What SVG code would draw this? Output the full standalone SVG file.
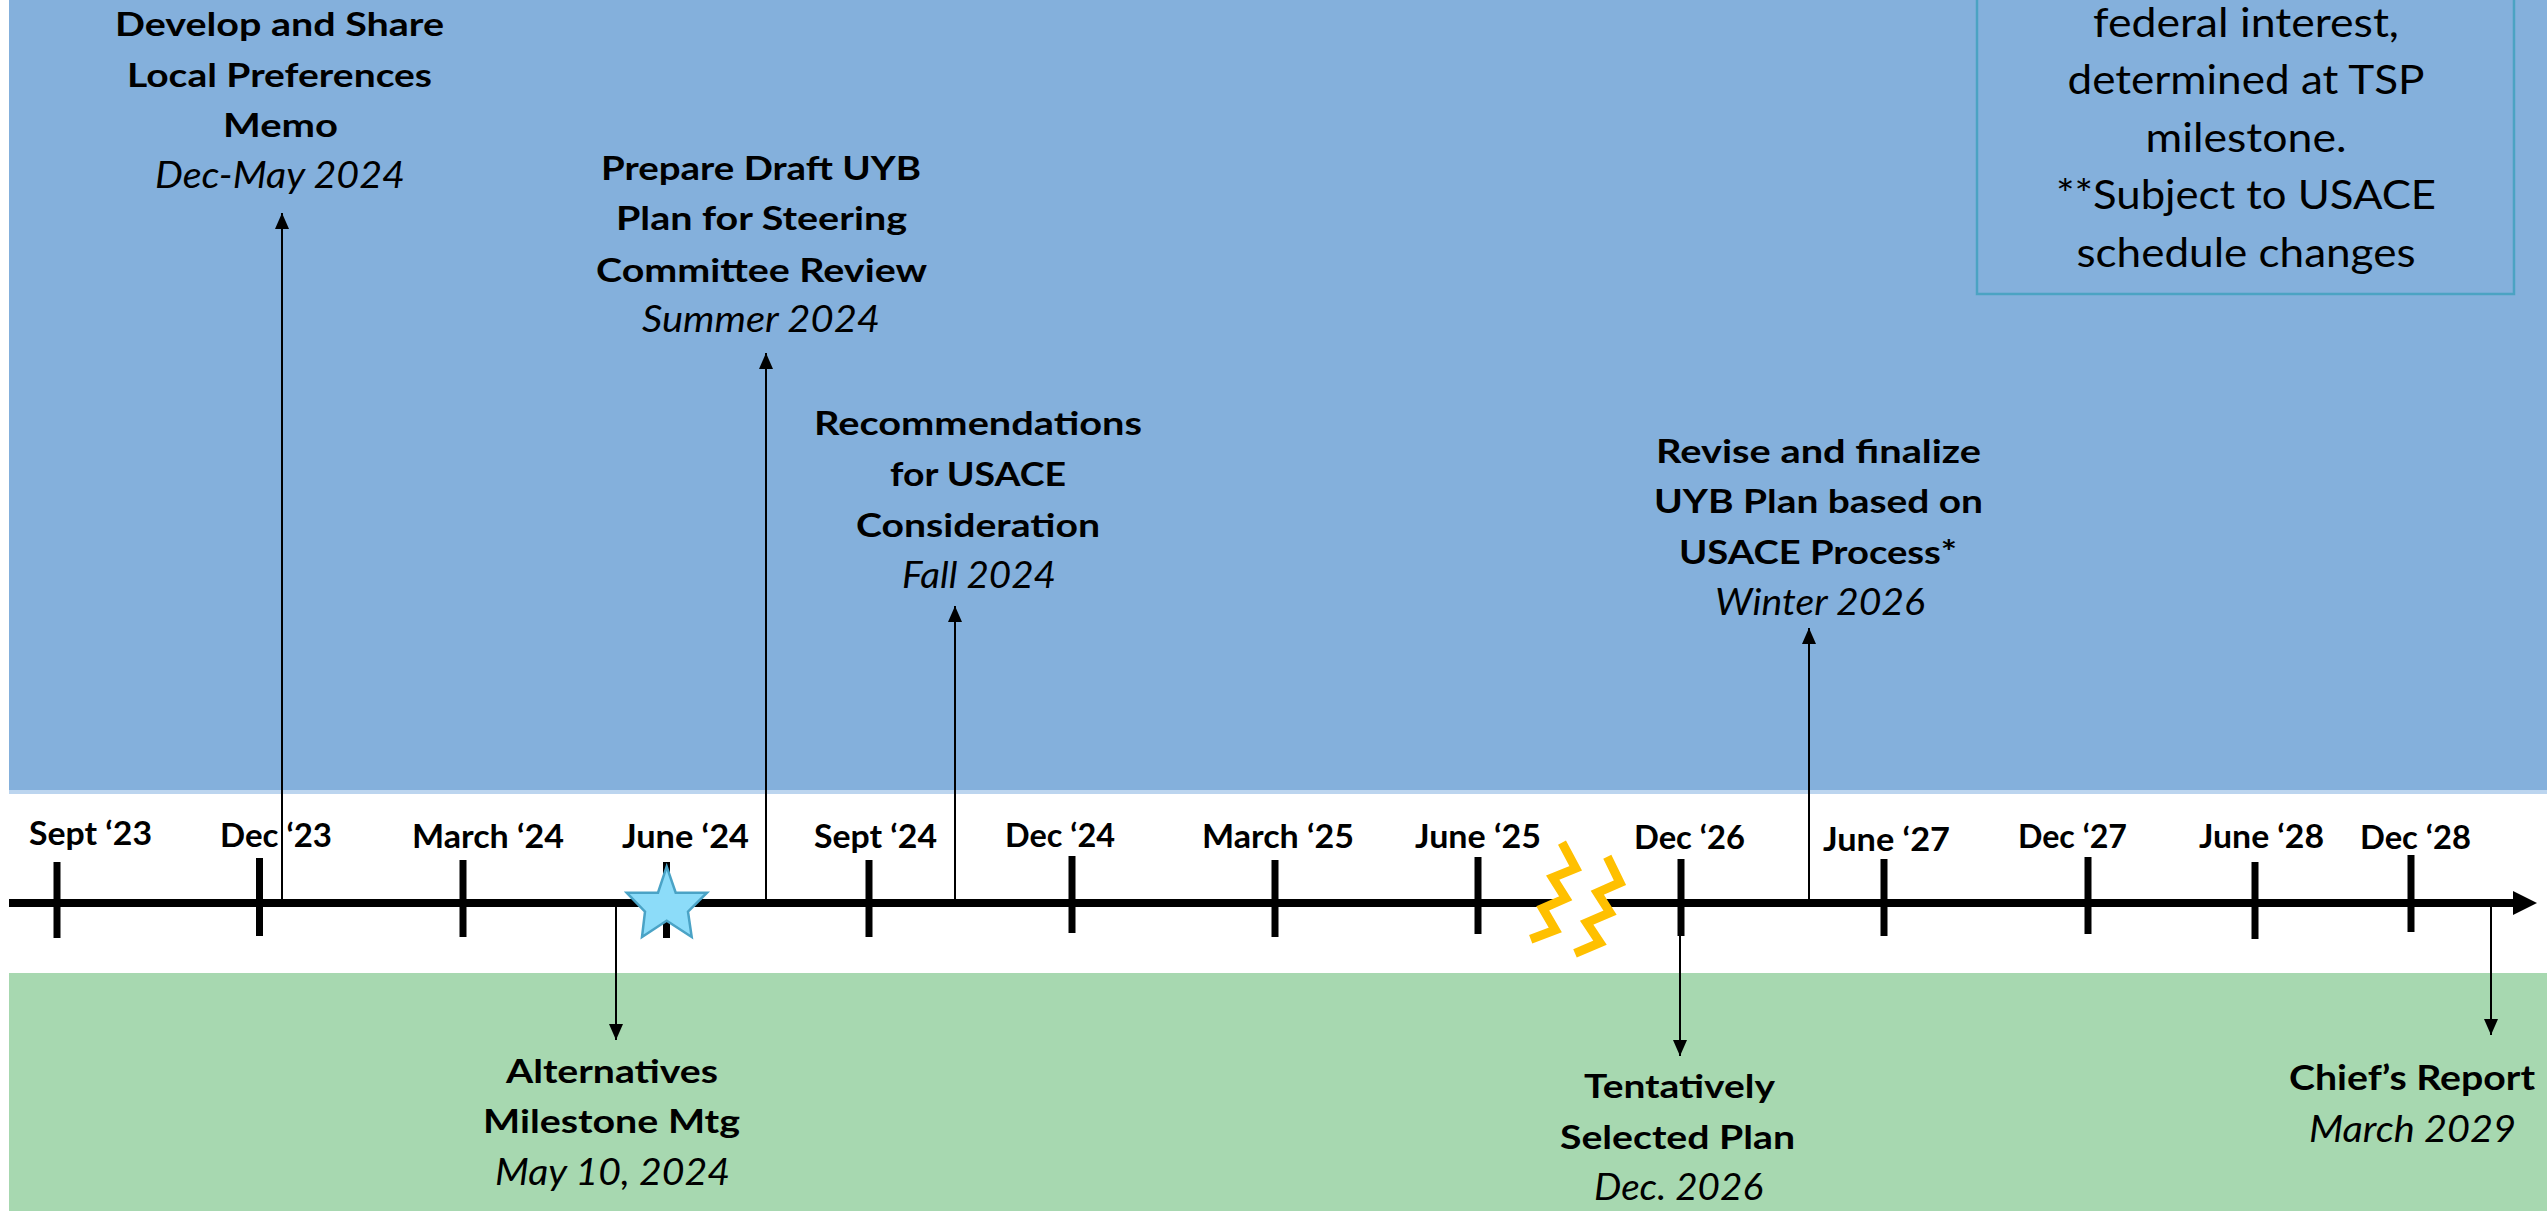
<svg xmlns="http://www.w3.org/2000/svg" width="2547" height="1211" viewBox="0 0 2547 1211">
<style>
text{font-family:"Lato","Carlito","Liberation Sans",sans-serif;fill:#000;text-anchor:middle}
.b{font-weight:700;font-size:33px}
.i{font-style:italic;font-weight:400;font-size:37px}
.t{font-weight:700;font-size:33px}
.n{font-weight:400;font-size:41px}
.tick{stroke:#000;stroke-width:7}
.con{stroke:#000;stroke-width:2;fill:none}
.bolt{fill:none;stroke:#FFC000;stroke-width:9;stroke-linejoin:miter;stroke-miterlimit:10}
</style>
<defs>
<marker id="ah" viewBox="0 0 16 14" refX="16" refY="7" markerWidth="16" markerHeight="14" markerUnits="userSpaceOnUse" orient="auto">
<path d="M0,0 L16,7 L0,14 Z" fill="#000"/>
</marker>
</defs>
<rect x="0" y="0" width="2547" height="1211" fill="#fff"/>
<g id="bands">
<rect x="9" y="0" width="2538" height="791" fill="#84B0DC"/>
<rect x="9" y="790" width="2538" height="4" fill="#BCD5EF"/>
<rect x="9" y="973" width="2538" height="238" fill="#A7D8B0"/>
</g>
<g id="note-box">
<rect x="1977" y="-20" width="537" height="314" fill="none" stroke="#4BA3C3" stroke-width="2.5"/>
<text class="n" x="2246" y="37" textLength="306" lengthAdjust="spacingAndGlyphs">federal interest,</text>
<text class="n" x="2246" y="94" textLength="357" lengthAdjust="spacingAndGlyphs">determined at TSP</text>
<text class="n" x="2246" y="152" textLength="201" lengthAdjust="spacingAndGlyphs">milestone.</text>
<text class="n" x="2246" y="209" textLength="380" lengthAdjust="spacingAndGlyphs">**Subject to USACE</text>
<text class="n" x="2246" y="267" textLength="339" lengthAdjust="spacingAndGlyphs">schedule changes</text>
</g>
<g id="timeline-axis">
<line x1="9" y1="903" x2="2514" y2="903" stroke="#000" stroke-width="8"/>
<polygon points="2513,891 2537,903 2513,915" fill="#000"/>
<line class="tick" x1="57" y1="862" x2="57" y2="938"/>
<line class="tick" x1="259.5" y1="858" x2="259.5" y2="936"/>
<line class="tick" x1="463" y1="860" x2="463" y2="937"/>
<line class="tick" x1="666.5" y1="862" x2="666.5" y2="938"/>
<line class="tick" x1="869" y1="860" x2="869" y2="937"/>
<line class="tick" x1="1072" y1="856" x2="1072" y2="933"/>
<line class="tick" x1="1275" y1="860" x2="1275" y2="937"/>
<line class="tick" x1="1478" y1="857" x2="1478" y2="934"/>
<line class="tick" x1="1681" y1="859" x2="1681" y2="936"/>
<line class="tick" x1="1884" y1="859" x2="1884" y2="936"/>
<line class="tick" x1="2088" y1="857" x2="2088" y2="934"/>
<line class="tick" x1="2255" y1="862" x2="2255" y2="939"/>
<line class="tick" x1="2411" y1="855" x2="2411" y2="932"/>
</g>
<g id="tick-labels">
<text class="t" x="90.5" y="845" textLength="123" lengthAdjust="spacingAndGlyphs">Sept ‘23</text>
<text class="t" x="276" y="847" textLength="112" lengthAdjust="spacingAndGlyphs">Dec ‘23</text>
<text class="t" x="488" y="848" textLength="152" lengthAdjust="spacingAndGlyphs">March ‘24</text>
<text class="t" x="685.5" y="848" textLength="127" lengthAdjust="spacingAndGlyphs">June ‘24</text>
<text class="t" x="875.5" y="848" textLength="123" lengthAdjust="spacingAndGlyphs">Sept ‘24</text>
<text class="t" x="1060" y="847" textLength="110" lengthAdjust="spacingAndGlyphs">Dec ‘24</text>
<text class="t" x="1278" y="848" textLength="152" lengthAdjust="spacingAndGlyphs">March ‘25</text>
<text class="t" x="1478" y="848" textLength="126" lengthAdjust="spacingAndGlyphs">June ‘25</text>
<text class="t" x="1689.5" y="849" textLength="111" lengthAdjust="spacingAndGlyphs">Dec ‘26</text>
<text class="t" x="1886.5" y="851" textLength="127" lengthAdjust="spacingAndGlyphs">June ‘27</text>
<text class="t" x="2072.5" y="848" textLength="109" lengthAdjust="spacingAndGlyphs">Dec ‘27</text>
<text class="t" x="2261.5" y="848" textLength="125" lengthAdjust="spacingAndGlyphs">June ‘28</text>
<text class="t" x="2415.5" y="849" textLength="111" lengthAdjust="spacingAndGlyphs">Dec ‘28</text>
</g>
<g id="break-symbol">
<rect x="1556" y="897" width="46" height="13" fill="#fff"/>
<polyline class="bolt" points="1562,842.7 1575.7,868.3 1552.7,877.7 1565.7,898.3 1542.7,908.3 1555.3,930 1530.7,939.3"/>
<polyline class="bolt" points="1607.3,856.7 1620,882.7 1597.3,892.7 1610,912.7 1586.7,922.7 1600,942.7 1575,953.3"/>
</g>
<g id="connectors">
<line class="con" x1="282" y1="899" x2="282" y2="213" marker-end="url(#ah)"/>
<line class="con" x1="766" y1="899" x2="766" y2="353" marker-end="url(#ah)"/>
<line class="con" x1="955" y1="899" x2="955" y2="606" marker-end="url(#ah)"/>
<line class="con" x1="1809" y1="899" x2="1809" y2="628" marker-end="url(#ah)"/>
<line class="con" x1="616" y1="907" x2="616" y2="1040" marker-end="url(#ah)"/>
<line class="con" x1="1680" y1="907" x2="1680" y2="1056" marker-end="url(#ah)"/>
<line class="con" x1="2491" y1="907" x2="2491" y2="1035" marker-end="url(#ah)"/>
</g>
<g id="star-milestone">
<polygon points="666.7,866.7 675.7,892.7 707,892.7 688,911.7 691.7,937 666.7,920.7 642,937 645,911.7 626.7,892.7 658,892.7" fill="#8CDCF9" stroke="#4AA3C6" stroke-width="2.5" stroke-linejoin="miter"/>
</g>
<g id="node-local-preferences">
<text class="b" x="279.5" y="36" textLength="329" lengthAdjust="spacingAndGlyphs">Develop and Share</text>
<text class="b" x="279.5" y="87" textLength="305" lengthAdjust="spacingAndGlyphs">Local Preferences</text>
<text class="b" x="280.5" y="137" textLength="115" lengthAdjust="spacingAndGlyphs">Memo</text>
<text class="i" x="280" y="188" textLength="250" lengthAdjust="spacingAndGlyphs">Dec-May 2024</text>
</g>
<g id="node-draft-plan">
<text class="b" x="761" y="180" textLength="320" lengthAdjust="spacingAndGlyphs">Prepare Draft UYB</text>
<text class="b" x="761.5" y="230" textLength="291" lengthAdjust="spacingAndGlyphs">Plan for Steering</text>
<text class="b" x="761.5" y="282" textLength="331" lengthAdjust="spacingAndGlyphs">Committee Review</text>
<text class="i" x="761" y="332" textLength="238" lengthAdjust="spacingAndGlyphs">Summer 2024</text>
</g>
<g id="node-recommendations">
<text class="b" x="978" y="435" textLength="328" lengthAdjust="spacingAndGlyphs">Recommendations</text>
<text class="b" x="978" y="486" textLength="176" lengthAdjust="spacingAndGlyphs">for USACE</text>
<text class="b" x="978" y="537" textLength="244" lengthAdjust="spacingAndGlyphs">Consideration</text>
<text class="i" x="979" y="588" textLength="154" lengthAdjust="spacingAndGlyphs">Fall 2024</text>
</g>
<g id="node-revise">
<text class="b" x="1818.5" y="463" textLength="325" lengthAdjust="spacingAndGlyphs">Revise and finalize</text>
<text class="b" x="1818.5" y="513" textLength="329" lengthAdjust="spacingAndGlyphs">UYB Plan based on</text>
<text class="b" x="1818" y="564" textLength="278" lengthAdjust="spacingAndGlyphs">USACE Process*</text>
<text class="i" x="1820" y="615" textLength="210" lengthAdjust="spacingAndGlyphs">Winter 2026</text>
</g>
<g id="node-alternatives">
<text class="b" x="612" y="1083" textLength="212" lengthAdjust="spacingAndGlyphs">Alternatives</text>
<text class="b" x="611.5" y="1133" textLength="257" lengthAdjust="spacingAndGlyphs">Milestone Mtg</text>
<text class="i" x="612.5" y="1185" textLength="235" lengthAdjust="spacingAndGlyphs">May 10, 2024</text>
</g>
<g id="node-tsp">
<text class="b" x="1679.5" y="1098" textLength="191" lengthAdjust="spacingAndGlyphs">Tentatively</text>
<text class="b" x="1677.5" y="1149" textLength="235" lengthAdjust="spacingAndGlyphs">Selected Plan</text>
<text class="i" x="1678.5" y="1200" textLength="169" lengthAdjust="spacingAndGlyphs">Dec. 2026</text>
</g>
<g id="node-chiefs-report">
<text class="b" x="2412" y="1090" textLength="246" lengthAdjust="spacingAndGlyphs" style="font-size:35px">Chief’s Report</text>
<text class="i" x="2412.5" y="1142" textLength="207" lengthAdjust="spacingAndGlyphs">March 2029</text>
</g>
</svg>
